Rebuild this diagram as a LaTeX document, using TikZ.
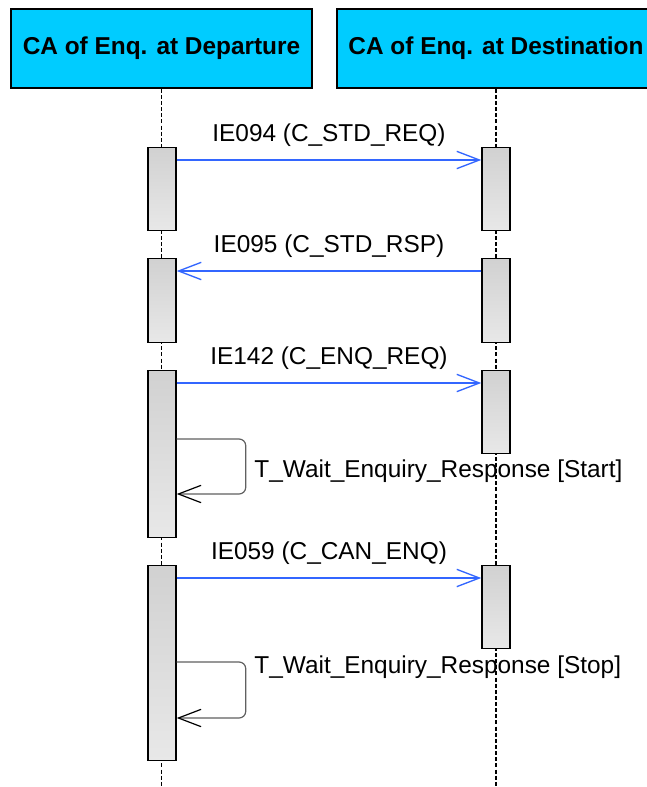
\documentclass[tikz,border=0pt]{standalone}
\usepackage{fontspec}
\setmainfont{Liberation Sans}
\usetikzlibrary{arrows.meta,positioning,calc}
\definecolor{headCyan}{RGB}{0,204,255}
\definecolor{msgBlue}{RGB}{51,102,255}
\definecolor{loopGray}{RGB}{96,96,96}
\newcommand{\msgfont}{\fontsize{18.3}{20}\selectfont}

\begin{document}
\begin{tikzpicture}[x=0.75pt,y=-0.75pt,
    head/.style={draw=black, fill=headCyan, line width=1.1pt, minimum width=#1,
        minimum height=59.25pt, inner sep=0pt, font=\msgfont\bfseries},
    bar/.style={draw=black, line width=1.1pt, top color=gray!36, bottom color=gray!18,
        minimum width=21pt, minimum height=#1, inner sep=0pt, anchor=north},
    life/.style={draw=black, line width=0.9pt, dash pattern=on 3pt off 1.6pt},
    msg/.style={draw=msgBlue, line width=1pt,
        -{Straight Barb[length=17pt,width=13pt,line width=1pt]}},
    selfmsg/.style={draw=loopGray, line width=0.9pt, rounded corners=5pt,
        -{Straight Barb[length=17pt,width=13pt,line width=0.9pt,color=black]}},
    lbl/.style={font=\msgfont}]
    \useasboundingbox (0,0) rectangle (646,787);

    % lifeline heads
    \node[head=225.75pt] (dep) at (161.5,48.5) {CA of Enq. at Departure};
    \node[head=238.5pt] (dst) at (496,48.5) {CA of Enq. at Destination};

    \coordinate (depEnd) at (dep.south |- 0,786);
    \coordinate (dstEnd) at (dst.south |- 0,786);
    \draw[life] (dep.south) -- (depEnd);
    \draw[life] (dst.south) -- (dstEnd);

    % activations
    \node[bar=62.25pt] (d1) at (162,147) {};
    \node[bar=62.25pt] (s1) at (496,147) {};
    \node[bar=63pt] (d2) at (162,258) {};
    \node[bar=63pt] (s2) at (496,258) {};
    \node[bar=125.25pt] (d3) at (162,370) {};
    \node[bar=62.25pt] (s3) at (496,370) {};
    \node[bar=146.25pt] (d4) at (162,565) {};
    \node[bar=62.25pt] (s4) at (496,565) {};

    % messages
    \draw[msg] ($(d1.north east)+(0,13)$) -- node[lbl, yshift=18.5pt] {IE094 (C\_STD\_REQ)} ($(s1.north west)+(0,13)$);
    \draw[msg] ($(s2.north west)+(0,13)$) -- node[lbl, yshift=18.5pt] {IE095 (C\_STD\_RSP)} ($(d2.north east)+(0,13)$);
    \draw[msg] ($(d3.north east)+(0,13)$) -- node[lbl, yshift=18.5pt] {IE142 (C\_ENQ\_REQ)} ($(s3.north west)+(0,13)$);
    \draw[msg] ($(d4.north east)+(0,13)$) -- node[lbl, yshift=18.5pt] {IE059 (C\_CAN\_ENQ)} ($(s4.north west)+(0,13)$);

    % timers
    \draw[selfmsg] ($(d3.north east)+(0,69)$) -- ++(69,0) -- ++(0,55) -- ++(-69,0);
    \node[lbl, anchor=west] (t1) at ($(d3.north east)+(73,101)$) {T\_Wait\_Enquiry\_Response [Start]};
    \draw[selfmsg] ($(d4.north east)+(0,97)$) -- ++(69,0) -- ++(0,56) -- ++(-69,0);
    \node[lbl, anchor=west] (t2) at ($(d4.north east)+(73,102)$) {T\_Wait\_Enquiry\_Response [Stop]};
\end{tikzpicture}
\end{document}
